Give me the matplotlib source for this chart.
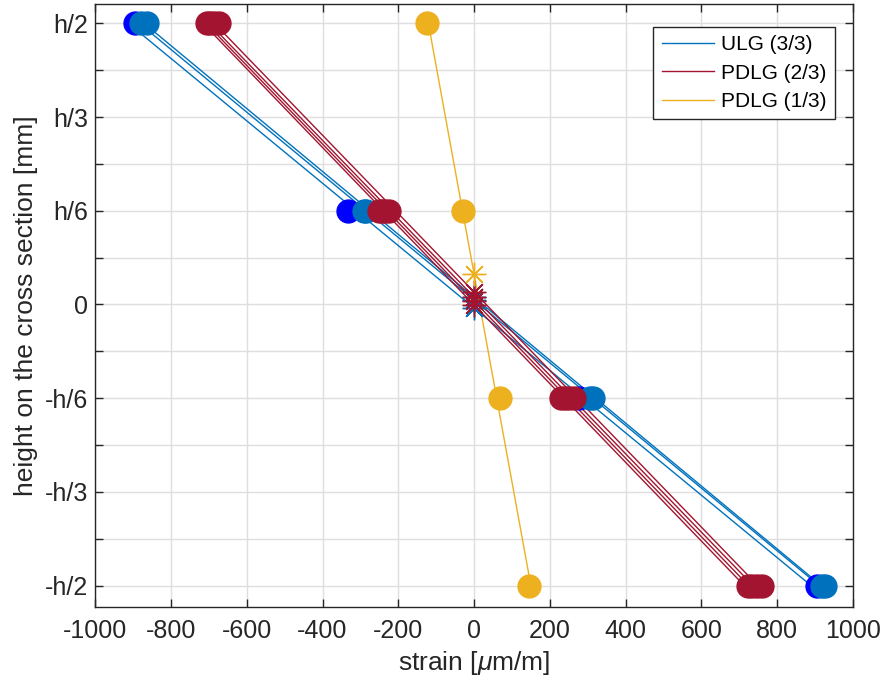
import numpy as np
import matplotlib
matplotlib.use("Agg")
import matplotlib.pyplot as plt

plt.rcParams["font.family"] = ["Liberation Sans", "DejaVu Sans"]
plt.rcParams["mathtext.fontset"] = "custom"
plt.rcParams["mathtext.rm"] = "Liberation Sans"
plt.rcParams["mathtext.it"] = "Liberation Sans:italic"
plt.rcParams["axes.unicode_minus"] = False

# gauge heights on the cross section, in units of h
gauge_heights = [0.5, 1 / 6, -1 / 6, -0.5]

# measured strains [um/m] per specimen, ordered like gauge_heights
ulg_strain = [
    [-895, -332, 276, 905],
    [-878, -290, 305, 918],
    [-862, -285, 313, 925],
]
pdlg23_strain = [
    [-705, -252, 230, 722],
    [-696, -244, 240, 734],
    [-686, -236, 250, 747],
    [-672, -224, 263, 760],
]
pdlg13_strain = [
    [-124, -30, 68, 144],
]

group_names = ["ULG (3/3)", "PDLG (2/3)", "PDLG (1/3)"]
group_colors = ["#0072BD", "#A2142F", "#EDB120"]
ulg_marker_colors = ["#0000FF", "#0072BD", "#0072BD"]

ytick_pos = [0.5, 5 / 12, 1 / 3, 1 / 4, 1 / 6, 1 / 12, 0,
             -1 / 12, -1 / 6, -1 / 4, -1 / 3, -5 / 12, -0.5]
ytick_lab = ["h/2", "", "h/3", "", "h/6", "", "0",
             "", "-h/6", "", "-h/3", "", "-h/2"]
xtick_pos = [-1000, -800, -600, -400, -200, 0, 200, 400, 600, 800, 1000]
xtick_lab = [str(v) for v in xtick_pos]

fig = plt.figure(figsize=(8.83, 6.84), dpi=100)
ax = fig.add_axes([0.1078, 0.1130, 0.8583, 0.8812])

groups = [
    (ulg_strain, group_colors[0], ulg_marker_colors, group_names[0]),
    (pdlg23_strain, group_colors[1], [group_colors[1]] * len(pdlg23_strain), group_names[1]),
    (pdlg13_strain, group_colors[2], [group_colors[2]] * len(pdlg13_strain), group_names[2]),
]

heights = np.array(gauge_heights)
handles = []
for strains, color, mcolors, name in groups:
    for k, (s, mc) in enumerate(zip(strains, mcolors)):
        s = np.array(s, dtype=float)
        slope, icpt = np.polyfit(heights, s, 1)
        ends = np.array([0.5, -0.5])
        ln, = ax.plot(icpt + slope * ends, ends, color=color, lw=1.0, zorder=2)
        if k == 0:
            handles.append((ln, name))
        ax.plot(s, heights, linestyle="none", marker="o", ms=16.5,
                mfc=mc, mec=mc, zorder=3)
        # neutral axis: zero crossing of the fitted strain profile
        ax.plot([0], [-icpt / slope], linestyle="none", marker=(8, 2, 0),
                ms=17, mec=color, mew=1.0, zorder=4)

ax.set_xlim(-1000, 1000)
ax.set_ylim(-0.5373, 0.5343)
ax.set_xticks(xtick_pos)
ax.set_xticklabels(xtick_lab)
ax.set_yticks(ytick_pos)
ax.set_yticklabels(ytick_lab)
ax.grid(True, color="#dedede", lw=1.0, zorder=0)
ax.set_axisbelow(True)
ax.tick_params(direction="in", length=6, width=1.0, color="#262626",
               labelsize=18, top=True, right=True, labelcolor="#262626")
ax.tick_params(axis="x", pad=9)
ax.tick_params(axis="y", pad=5)
for sp in ax.spines.values():
    sp.set_color("#262626")
    sp.set_linewidth(1.0)

ax.set_xlabel(r"strain [$\mu$m/m]", fontsize=19, color="#262626", labelpad=4)
ax.set_ylabel("height on the cross section [mm]", fontsize=19, color="#262626", labelpad=5)

leg = ax.legend([h for h, _ in handles], [n for _, n in handles],
                loc="upper right", bbox_to_anchor=(0.976, 0.962),
                borderaxespad=0, fontsize=15, frameon=True, fancybox=False,
                framealpha=1, edgecolor="#262626", handlelength=2.5,
                handletextpad=0.35, labelspacing=0.45, borderpad=0.4)
leg.get_frame().set_linewidth(1.0)

fig.savefig("out.png", dpi=100)
